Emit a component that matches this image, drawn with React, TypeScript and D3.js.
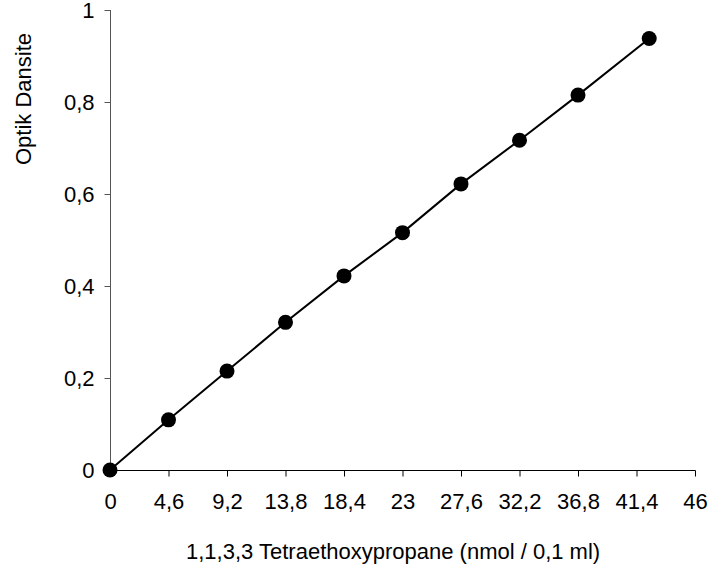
import React, { useEffect, useRef } from 'react';
import * as d3 from 'd3';

const width = 709;
const height = 575;

// concentration (nmol / 0,1 ml) and optical density readings
const concentrations = [0, 4.6, 9.2, 13.8, 18.4, 23, 27.6, 32.2, 36.8, 42.4];
const densities = [0, 0.109, 0.215, 0.321, 0.422, 0.516, 0.622, 0.717, 0.815, 0.938];
const xTicks = [0, 4.6, 9.2, 13.8, 18.4, 23, 27.6, 32.2, 36.8, 41.4, 46];
const yTicks = [0, 0.2, 0.4, 0.6, 0.8, 1];

const xTitle = '1,1,3,3 Tetraethoxypropane (nmol / 0,1 ml)';
const yTitle = 'Optik Dansite';

const font = 'Liberation Sans, Arial, sans-serif';
const fontSize = 22;

const App = () => {
    const ref = useRef<SVGSVGElement>(null);

    useEffect(() => {
        if (!ref.current) return;
        const svg = d3.select(ref.current);
        svg.selectAll('*').remove();

        const x = d3.scaleLinear().domain([0, 46]).range([110, 695]);
        const y = d3.scaleLinear().domain([0, 1]).range([470, 10]);

        const fmt = (v: number) => String(v).replace('.', ',');

        // x axis
        const gx = svg.append('g')
            .attr('transform', 'translate(0,470.5)')
            .call(d3.axisBottom(x).tickValues(xTicks).tickSize(6).tickPadding(17).tickFormat((d) => fmt(+d)));
        gx.select('.domain').attr('stroke', '#000').attr('d', `M${x(0)},0H${x(46) + 0.5}`);
        gx.selectAll('line').attr('stroke', '#000');
        gx.selectAll('text')
            .attr('font-family', font)
            .attr('font-size', fontSize)
            .attr('fill', '#000');

        // y axis
        const gy = svg.append('g')
            .attr('transform', 'translate(110.5,0)')
            .call(d3.axisLeft(y).tickValues(yTicks).tickSize(6).tickPadding(10).tickFormat((d) => fmt(+d)));
        gy.select('.domain').attr('stroke', '#555').attr('d', `M0,${y(1)}V${y(0)}`);
        gy.selectAll('line').attr('stroke', '#555');
        gy.selectAll('text')
            .attr('font-family', font)
            .attr('font-size', fontSize)
            .attr('fill', '#000');

        const data = concentrations.map((c, i) => ({ c, d: densities[i] }));

        // connecting line
        const line = d3.line<{ c: number; d: number }>()
            .x((p) => x(p.c))
            .y((p) => y(p.d));

        svg.append('path')
            .datum(data)
            .attr('fill', 'none')
            .attr('stroke', '#000')
            .attr('stroke-width', 2)
            .attr('d', line);

        svg.append('g')
            .selectAll('circle')
            .data(data)
            .enter()
            .append('circle')
            .attr('cx', (p) => x(p.c))
            .attr('cy', (p) => y(p.d))
            .attr('r', 7.5)
            .attr('fill', '#000');

        // titles
        svg.append('text')
            .attr('x', 186)
            .attr('y', 559)
            .attr('font-family', font)
            .attr('font-size', fontSize)
            .text(xTitle);

        svg.append('text')
            .attr('transform', 'translate(31,99) rotate(-90)')
            .attr('text-anchor', 'middle')
            .attr('font-family', font)
            .attr('font-size', fontSize)
            .text(yTitle);
    }, []);

    return (
        <svg ref={ref} width={width} height={height}
            style={{ position: 'absolute', left: 0, top: 0, background: '#fff' }} />
    );
};

export default App;
